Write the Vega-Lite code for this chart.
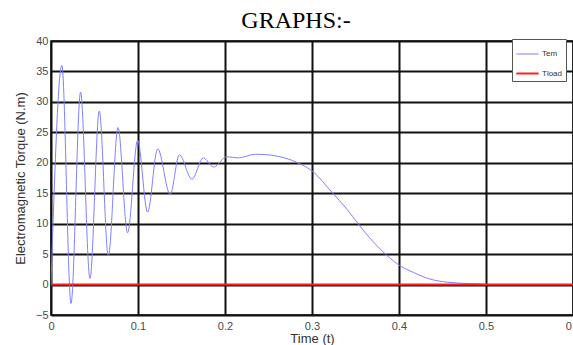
{
  "$schema": "https://vega.github.io/schema/vega-lite/v6.json",
  "width": 522,
  "height": 274,
  "autosize": {"type": "none"},
  "padding": {"left": 51, "top": 41, "right": 0, "bottom": 30},
  "background": "white",
  "title": {
    "text": "GRAPHS:-",
    "font": "Liberation Serif",
    "fontSize": 24,
    "fontWeight": "normal",
    "color": "#000000",
    "anchor": "middle",
    "frame": "group",
    "dx": -16,
    "dy": 27,
    "offset": 10,
    "baseline": "alphabetic"
  },
  "data": {
    "values": [
      {"t": 0, "v": 0, "series": "Tem"},
      {"t": 0.0125, "v": 36.0, "series": "Tem"},
      {"t": 0.023, "v": -3.1, "series": "Tem"},
      {"t": 0.034, "v": 31.6, "series": "Tem"},
      {"t": 0.0448, "v": 1.0, "series": "Tem"},
      {"t": 0.0555, "v": 28.5, "series": "Tem"},
      {"t": 0.0659, "v": 4.7, "series": "Tem"},
      {"t": 0.077, "v": 25.8, "series": "Tem"},
      {"t": 0.088, "v": 8.5, "series": "Tem"},
      {"t": 0.0996, "v": 23.7, "series": "Tem"},
      {"t": 0.111, "v": 11.9, "series": "Tem"},
      {"t": 0.1226, "v": 22.3, "series": "Tem"},
      {"t": 0.137, "v": 14.8, "series": "Tem"},
      {"t": 0.1475, "v": 21.3, "series": "Tem"},
      {"t": 0.162, "v": 17.3, "series": "Tem"},
      {"t": 0.175, "v": 20.8, "series": "Tem"},
      {"t": 0.187, "v": 19.3, "series": "Tem"},
      {"t": 0.202, "v": 21.0, "series": "Tem"},
      {"t": 0.215, "v": 20.8, "series": "Tem"},
      {"t": 0.235, "v": 21.4, "series": "Tem"},
      {"t": 0.25, "v": 21.3, "series": "Tem"},
      {"t": 0.263, "v": 21.0, "series": "Tem"},
      {"t": 0.282, "v": 20.1, "series": "Tem"},
      {"t": 0.3015, "v": 18.5, "series": "Tem"},
      {"t": 0.3226, "v": 15.2, "series": "Tem"},
      {"t": 0.34, "v": 12.4, "series": "Tem"},
      {"t": 0.353, "v": 10.0, "series": "Tem"},
      {"t": 0.3705, "v": 7.0, "series": "Tem"},
      {"t": 0.386, "v": 4.8, "series": "Tem"},
      {"t": 0.401, "v": 3.1, "series": "Tem"},
      {"t": 0.4165, "v": 2.0, "series": "Tem"},
      {"t": 0.4356, "v": 0.9, "series": "Tem"},
      {"t": 0.455, "v": 0.4, "series": "Tem"},
      {"t": 0.474, "v": 0.2, "series": "Tem"},
      {"t": 0.493, "v": 0.1, "series": "Tem"},
      {"t": 0.5, "v": 0.05, "series": "Tem"},
      {"t": 0, "v": 0, "series": "Tload"},
      {"t": 0.6, "v": 0, "series": "Tload"}
    ]
  },
  "mark": {"type": "line", "interpolate": "monotone", "clip": true},
  "encoding": {
    "x": {
      "field": "t",
      "type": "quantitative",
      "scale": {"domain": [0, 0.6], "nice": false, "zero": false},
      "axis": {
        "title": "Time (t)",
        "values": [0, 0.1, 0.2, 0.3, 0.4, 0.5, 0.6],
        "format": "~g",
        "labelFlush": false,
        "labelOverlap": false,
        "labelPadding": 5,
        "titlePadding": 1
      }
    },
    "y": {
      "field": "v",
      "type": "quantitative",
      "scale": {"domain": [-5, 40], "nice": false, "zero": false},
      "axis": {
        "title": "Electromagnetic Torque (N.m)",
        "values": [-5, 0, 5, 10, 15, 20, 25, 30, 35, 40],
        "labelPadding": 3,
        "titlePadding": 8
      }
    },
    "color": {
      "field": "series",
      "type": "nominal",
      "scale": {"domain": ["Tem", "Tload"], "range": ["#8080ff", "#ff2020"]},
      "legend": {
        "orient": "none",
        "legendX": 461,
        "legendY": -2,
        "title": null,
        "fillColor": "white",
        "strokeColor": "#555555",
        "padding": 3,
        "labelFontSize": 8,
        "labelFont": "Liberation Sans",
        "labelColor": "#333333",
        "labelOffset": 2,
        "rowPadding": 3,
        "symbolType": "stroke",
        "symbolSize": 500,
        "symbolStrokeWidth": 2
      }
    },
    "strokeWidth": {
      "field": "series",
      "type": "nominal",
      "scale": {"domain": ["Tem", "Tload"], "range": [1, 2]},
      "legend": null
    },
    "order": {"field": "t", "type": "quantitative"}
  },
  "config": {
    "view": {"stroke": "#000000", "strokeWidth": 1.5},
    "axis": {
      "grid": true,
      "gridColor": "#111111",
      "gridWidth": 2,
      "gridOpacity": 1,
      "domain": false,
      "ticks": false,
      "labelFont": "Liberation Sans",
      "labelFontSize": 11,
      "labelColor": "#4a4a4a",
      "titleFont": "Liberation Sans",
      "titleFontSize": 13,
      "titleFontWeight": "normal",
      "titleColor": "#333333"
    }
  }
}
